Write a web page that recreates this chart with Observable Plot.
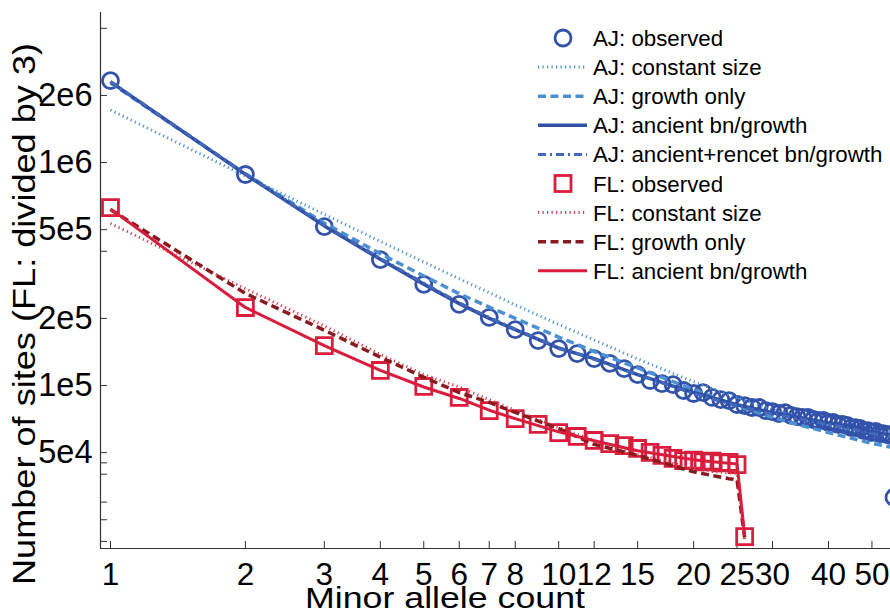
<!DOCTYPE html>
<html><head><meta charset="utf-8">
<script src="https://cdn.jsdelivr.net/npm/d3@7"></script>
<script src="https://cdn.jsdelivr.net/npm/@observablehq/plot@0.6"></script>
<style>
html,body{margin:0;padding:0;background:#fff;overflow:hidden}
#chart{position:relative;width:890px;height:611px}
</style></head><body><div id="chart"></div>
<script>
const FONT = '"Liberation Sans", Arial, Helvetica, sans-serif';

// axes
const xDomain = [0.95, 55];
const yDomain = [1.858e4, 4.71e6];
const xTicks = [1, 2, 3, 4, 5, 6, 7, 8, 10, 12, 15, 20, 25, 30, 40, 50];
const xTickLabels = ["1","2","3","4","5","6","7","8","10","12","15","20","25","30","40","50"];
const yTicks = [2e6, 1e6, 5e5, 2e5, 1e5, 5e4];
const yTickLabels = ["2e6", "1e6", "5e5", "2e5", "1e5", "5e4"];
const yMinorTicks = [4e6, 4e5, 4.5e4, 4e4, 3e4, 2.5e4, 2e4];
const xLabel = "Minor allele count";
const yLabel = "Number of sites (FL: divided by 3)";

// AJ observed
const ajCounts = [1,2,3,4,5,6,7,8,9,10,11,12,13,14,15,16,17,18,19,20,21,22,23,24,25,26,27,28,29,30,31,32,33,34,35,36,37,38,39,40,41,42,43,44,45,46,47,48,49,50,51,52,53,54,55,56];
const ajObserved = [2.33e6, 8.84e5, 5.16e5, 3.67e5, 2.84e5, 2.31e5, 2.02e5, 1.78e5, 1.59e5, 1.465e5,
  1.39e5, 1.32e5, 1.256e5, 1.19e5, 1.12e5, 1.053e5, 1.02e5, 1.01e5, 9.5e4, 9.21e4,
  9.3e4, 8.84e4, 8.65e4, 8.56e4, 8.22e4, 8.13e4, 7.97e4, 7.97e4, 7.72e4, 7.64e4,
  7.49e4, 7.56e4, 7.34e4, 7.26e4, 7.19e4, 7.19e4, 7.04e4, 6.97e4, 6.97e4, 6.83e4,
  6.83e4, 6.69e4, 6.69e4, 6.62e4, 6.48e4, 6.48e4, 6.42e4, 6.28e4, 6.28e4, 6.15e4,
  6.22e4, 6.09e4, 6.09e4, 6.03e4, 5.97e4, 3.15e4];

// AJ models
const ajModelCounts = [1,2,3,4,5,6,7,8,10,12,15,20,25,30,35,40,45,50,55];
const ajConstant = [1.72e6, 8.71e5, 5.86e5, 4.43e5, 3.58e5, 3.01e5, 2.61e5, 2.30e5, 1.88e5, 1.60e5, 1.316e5, 1.04e5, 8.81e4, 7.79e4, 7.11e4, 6.65e4, 6.35e4, 6.18e4, 6.11e4];
const ajGrowth = [2.28e6, 8.9e5, 5.35e5, 3.9e5, 3.1e5, 2.58e5, 2.25e5, 2.0e5, 1.65e5, 1.42e5, 1.2e5, 9.6e4, 8.1e4, 7.2e4, 6.6e4, 6.15e4, 5.8e4, 5.5e4, 5.3e4];
const ajAncient = [2.30e6, 8.85e5, 5.2e5, 3.68e5, 2.85e5, 2.33e5, 2.0e5, 1.78e5, 1.47e5, 1.32e5, 1.12e5, 9.3e4, 8.2e4, 7.55e4, 7.15e4, 6.8e4, 6.5e4, 6.2e4, 6.0e4];
const ajRecent = [2.31e6, 8.9e5, 5.25e5, 3.72e5, 2.88e5, 2.35e5, 2.02e5, 1.79e5, 1.48e5, 1.31e5, 1.12e5, 9.2e4, 8.1e4, 7.45e4, 7.05e4, 6.7e4, 6.4e4, 6.1e4, 5.9e4];

// FL observed
const flCounts = [1,2,3,4,5,6,7,8,9,10,11,12,13,14,15,16,17,18,19,20,21,22,23,24,25,26];
const flObserved = [6.28e5, 2.238e5, 1.511e5, 1.168e5, 9.9e4, 8.84e4, 7.72e4, 7.11e4, 6.69e4, 6.15e4,
  5.91e4, 5.67e4, 5.49e4, 5.38e4, 5.22e4, 5.01e4, 4.86e4, 4.71e4, 4.61e4, 4.63e4,
  4.55e4, 4.58e4, 4.5e4, 4.52e4, 4.42e4, 2.10e4];

// FL models
const flModelCounts = [1,2,3,4,5,6,7,8,10,12,15,20,22,24,25,26];
const flConstant = [5.33e5, 2.72e5, 1.85e5, 1.38e5, 1.12e5, 9.85e4, 8.64e4, 7.73e4, 6.47e4, 5.67e4, 4.9e4, 4.25e4, 4.12e4, 4.05e4, 4.03e4, 2.01e4];
const flGrowth = [6.15e5, 2.59e5, 1.77e5, 1.34e5, 1.09e5, 9.3e4, 8.4e4, 7.57e4, 6.41e4, 5.45e4, 4.86e4, 4.1e4, 3.95e4, 3.82e4, 3.78e4, 2.08e4];
const flAncient = [6.2e5, 2.24e5, 1.51e5, 1.17e5, 9.85e4, 8.75e4, 7.75e4, 7.1e4, 6.2e4, 5.65e4, 5.1e4, 4.65e4, 4.55e4, 4.48e4, 4.45e4, 2.12e4];

// colours
const C = {
  ajObs: "#3352AA", ajConst: "#4C92D2", ajGrowth: "#4B90D3", ajAncient: "#2F50A6", ajRecent: "#4569BA",
  flObs: "#DA1D3D", flConst: "#D2404C", flGrowth: "#8A1A20", flAncient: "#DA1D3D"
};

const rows = (ks, vs) => ks.map((k, i) => ({k, v: vs[i]}));

const lineMark = (ks, vs, opts) => Plot.line(rows(ks, vs), {x: "k", y: "v", clip: true, strokeLinecap: "butt", ...opts});

const chart = Plot.plot({
  width: 890, height: 611,
  marginLeft: 100, marginRight: 0, marginTop: 12, marginBottom: 63,
  x: {type: "log", domain: xDomain, axis: null},
  y: {type: "log", domain: yDomain, axis: null},
  style: {fontFamily: FONT, color: "#000", background: "#fff"},
  marks: [
    Plot.ruleX([xDomain[0]], {stroke: "#333", strokeWidth: 1.2}),
    Plot.ruleY([yDomain[0]], {stroke: "#333", strokeWidth: 1.2}),
    Plot.tickX(xTicks, {x: d => d, insetTop: 529, stroke: "#333"}),
    Plot.tickY([...yTicks, ...yMinorTicks], {y: d => d, insetRight: 783, stroke: "#333"}),
    Plot.text(xTicks, {x: d => d, frameAnchor: "bottom", lineAnchor: "top", dy: 14, fontSize: 31.5, fill: "#000",
      text: (d, i) => xTickLabels[i]}),
    Plot.text(yTicks, {y: d => d, frameAnchor: "left", textAnchor: "end", dx: -8, fontSize: 32.5, fill: "#000",
      text: (d, i) => yTickLabels[i]}),

    // AJ
    Plot.dot(rows(ajCounts, ajObserved), {x: "k", y: "v", r: 8, stroke: C.ajObs, strokeWidth: 2.8, fill: "none", clip: true}),
    lineMark(ajModelCounts, ajConstant, {stroke: C.ajConst, strokeWidth: 3, strokeDasharray: "1.2,3.3"}),
    lineMark(ajModelCounts, ajGrowth, {stroke: C.ajGrowth, strokeWidth: 3.5, strokeDasharray: "8,4.5"}),
    lineMark(ajModelCounts, ajAncient, {stroke: C.ajAncient, strokeWidth: 3.5}),
    lineMark(ajModelCounts, ajRecent, {stroke: C.ajRecent, strokeWidth: 3, strokeDasharray: "8,4,2,4"}),

    // FL
    Plot.dot(rows(flCounts, flObserved), {x: "k", y: "v", r: 9, symbol: "square", stroke: C.flObs, strokeWidth: 2.8, fill: "none", clip: true}),
    lineMark(flModelCounts, flConstant, {stroke: C.flConst, strokeWidth: 3, strokeDasharray: "1.2,3.3"}),
    lineMark(flModelCounts, flGrowth, {stroke: C.flGrowth, strokeWidth: 3.5, strokeDasharray: "8,4.5"}),
    lineMark(flModelCounts, flAncient, {stroke: C.flAncient, strokeWidth: 3})
  ]
});
document.getElementById("chart").appendChild(chart);

const svg = d3.select(chart);

// axis titles
svg.append("text")
  .attr("x", 445).attr("y", 608)
  .attr("text-anchor", "middle")
  .attr("font-family", FONT).attr("font-size", 30).attr("fill", "#000")
  .attr("textLength", 280).attr("lengthAdjust", "spacingAndGlyphs")
  .text(xLabel);
svg.append("text")
  .attr("transform", "translate(35,314) rotate(-90)")
  .attr("text-anchor", "middle")
  .attr("font-family", FONT).attr("font-size", 32).attr("fill", "#000")
  .attr("textLength", 542).attr("lengthAdjust", "spacingAndGlyphs")
  .text(yLabel);

// legend
const legendItems = [
  {label: "AJ: observed", kind: "circle", color: C.ajObs},
  {label: "AJ: constant size", kind: "line", color: C.ajConst, width: 3, dash: "1.2,3.3"},
  {label: "AJ: growth only", kind: "line", color: C.ajGrowth, width: 3.5, dash: "8,4.5"},
  {label: "AJ: ancient bn/growth", kind: "line", color: C.ajAncient, width: 3.5, dash: null},
  {label: "AJ: ancient+rencet bn/growth", kind: "line", color: C.ajRecent, width: 3, dash: "8,4,2,4"},
  {label: "FL: observed", kind: "square", color: C.flObs},
  {label: "FL: constant size", kind: "line", color: C.flConst, width: 3, dash: "1.2,3.3"},
  {label: "FL: growth only", kind: "line", color: C.flGrowth, width: 3.5, dash: "8,4.5"},
  {label: "FL: ancient bn/growth", kind: "line", color: C.flAncient, width: 3, dash: null}
];
const lg = svg.append("g").attr("class", "legend");
legendItems.forEach((it, i) => {
  const y = 38 + i * 29.1;
  if (it.kind === "circle") {
    lg.append("circle").attr("cx", 563).attr("cy", y).attr("r", 8)
      .attr("fill", "none").attr("stroke", it.color).attr("stroke-width", 2.8);
  } else if (it.kind === "square") {
    lg.append("rect").attr("x", 555).attr("y", y - 8).attr("width", 16).attr("height", 16)
      .attr("fill", "none").attr("stroke", it.color).attr("stroke-width", 2.8);
  } else {
    lg.append("line").attr("x1", 538).attr("x2", 587).attr("y1", y).attr("y2", y)
      .attr("stroke", it.color).attr("stroke-width", it.width)
      .attr("stroke-dasharray", it.dash);
  }
  lg.append("text").attr("x", 593).attr("y", y).attr("dy", "0.36em")
    .attr("text-anchor", "start")
    .attr("font-family", FONT).attr("font-size", 22.3).attr("fill", "#000")
    .text(it.label);
});
</script>
</body></html>
